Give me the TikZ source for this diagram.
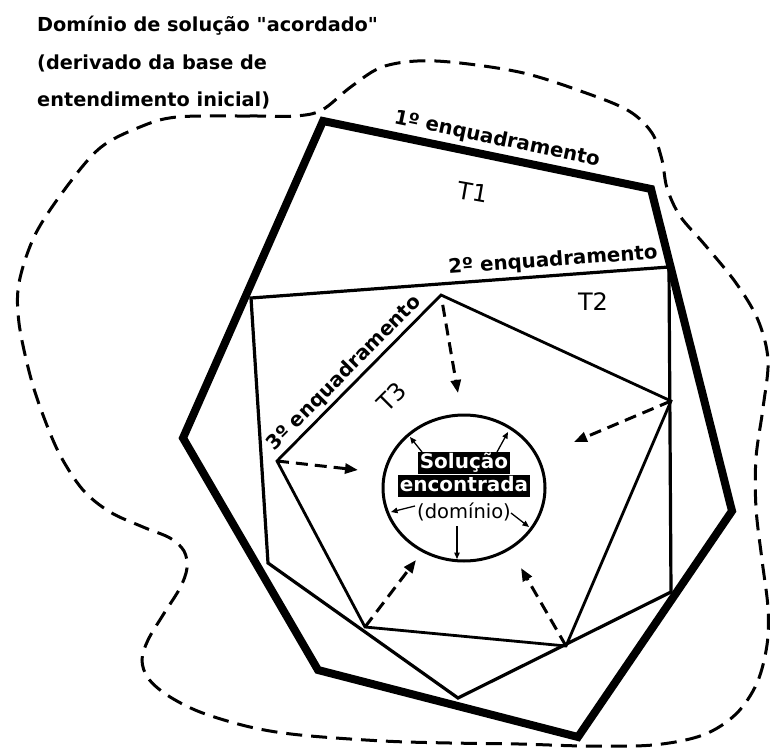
\documentclass[tikz,border=0pt]{standalone}
\usepackage{fontspec}
\newfontfamily\dvs{DejaVu Sans}
\usetikzlibrary{arrows.meta,shapes.geometric}
\begin{document}
\begin{tikzpicture}[x=1pt,y=-1pt,
  every node/.style={font=\dvs},
  frameA/.style={line width=8pt,line join=miter},
  frameB/.style={line width=3.2pt,line join=miter},
  frameC/.style={line width=2.8pt,line join=miter},
  blob/.style={line width=3pt,dash pattern=on 16pt off 9pt},
  darrow/.style={line width=3pt,dash pattern=on 12pt off 7pt,-{Triangle[length=13pt,width=10pt]}},
  sarrow/.style={line width=1.3pt,-{Triangle[length=6.5pt,width=5.5pt]}},
  elbl/.style={font=\dvs\bfseries\fontsize{19.8}{21}\selectfont,inner sep=1.5pt,sloped},
  tlbl/.style={font=\dvs\fontsize{24}{26}\selectfont,inner sep=0pt},
  ttl/.style={font=\dvs\bfseries\fontsize{19.3}{21}\selectfont,inner sep=0pt,anchor=base west},
  solbox/.style={fill=black,text=white,font=\dvs\bfseries\fontsize{20}{21}\selectfont,inner xsep=2pt,inner ysep=1pt,text height=14.8pt,text depth=4.6pt},
]
\useasboundingbox (0,0) rectangle (771,749);
\fill[white] (0,0) rectangle (771,749);

% title
\node[ttl] (ttl1) at (37,32) {Domínio de solução "acordado"};
\node[ttl] (ttl2) at (37,70) {(derivado da base de};
\node[ttl] (ttl3) at (37,107) {entendimento inicial)};

% agreed solution domain (dashed outline)
\draw[blob] plot[smooth cycle,tension=0.55] coordinates {
 (177,117) (250,116) (295,116) (322,110) (352,86) (385,66) (436,61) (519,72)
 (586,93) (629,111) (652,133) (662,160) (667,188) (680,216) (705,245) (736,283)
 (758,320) (768,360) (763,408) (756,458) (756,508) (762,560) (768,608) (767,645)
 (757,683) (736,714) (703,735) (653,745) (586,746) (519,744) (450,743) (383,741)
 (300,735) (250,727) (200,712) (167,695) (148,678) (142,660) (148,640) (163,615)
 (180,588) (187,568) (184,551) (170,538) (143,527) (110,512) (83,490) (60,455)
 (43,415) (30,375) (19,323) (19,283) (35,235) (65,189) (100,148) (140,127)};

% vertices
\coordinate (P1) at (323,121);
\coordinate (P2) at (651,189);
\coordinate (P3) at (732,511);
\coordinate (P4) at (578,737);
\coordinate (P5) at (318,670);
\coordinate (P6) at (183,438);

\coordinate (Q1) at (251,298);
\coordinate (Q2) at (669,267);
\coordinate (Q3) at (671,592);
\coordinate (Q4) at (458,698);
\coordinate (Q5) at (268,563);

\coordinate (R1) at (441,295);
\coordinate (R2) at (671,401);
\coordinate (R3) at (566,646);
\coordinate (R4) at (365,627);
\coordinate (R5) at (277,461);

\draw[frameA] (P1) -- (P2) -- (P3) -- (P4) -- (P5) -- (P6) -- cycle;
\draw[frameB] (Q1) -- (Q2) -- (Q3) -- (Q4) -- (Q5) -- cycle;
\draw[frameC] (R1) -- (R2) -- (R3) -- (R4) -- (R5) -- cycle;

% frame labels
\path (P1) -- node[elbl,above=6pt,pos=0.52] (L1) {1º enquadramento} (P2);
\path (Q1) -- node[elbl,above=3.5pt,pos=0.725] (L2) {2º enquadramento} (Q2);
\path (R5) -- node[elbl,above=2.5pt,pos=0.47] (L3) {3º enquadramento} (R1);

\node[tlbl,rotate=-10] (T1) at (473,192) {T1};
\node[tlbl] (T2) at (593,302) {T2};
\node[tlbl,rotate=45] (T3) at (392,397) {T3};

% found solution
\node[draw,ellipse,line width=3pt,minimum width=162pt,minimum height=146pt,inner sep=0pt] (sol) at (464,488) {};
\node[solbox] (s1) at (464,463) {Solução};
\node[solbox] (s2) at (464,486) {encontrada};
\node[font=\dvs\fontsize{19.5}{20}\selectfont,inner sep=0pt] (s3) at (464,512) {(domínio)};

% small arrows inside the circle
\coordinate (u1) at (422,452); \coordinate (v1) at (410,437);
\coordinate (u2) at (497,452); \coordinate (v2) at (508,432);
\coordinate (u3) at (415,506); \coordinate (v3) at (391,512);
\coordinate (u4) at (511,513); \coordinate (v4) at (529,527);
\coordinate (u5) at (457,526); \coordinate (v5) at (457,559);
\draw[sarrow] (u1) -- (v1);
\draw[sarrow] (u2) -- (v2);
\draw[sarrow] (u3) -- (v3);
\draw[sarrow] (u4) -- (v4);
\draw[sarrow] (u5) -- (v5);

% dashed arrows toward the solution
\coordinate (d1) at (458,393);
\coordinate (d2) at (358,470);
\coordinate (d3) at (574,442);
\coordinate (d4) at (416,560);
\coordinate (d5) at (521,568);
\draw[darrow,shorten <=10pt] (R1) -- (d1);
\draw[darrow] (R5) -- (d2);
\draw[darrow] (R2) -- (d3);
\draw[darrow] (R4) -- (d4);
\draw[darrow] (R3) -- (d5);
\end{tikzpicture}
\end{document}
